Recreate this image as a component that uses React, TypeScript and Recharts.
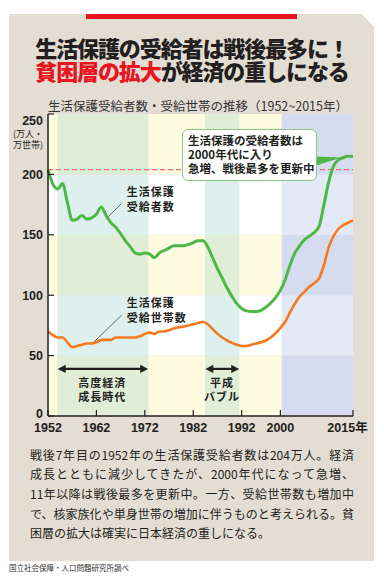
import {
  LineChart,
  Line,
  XAxis,
  YAxis,
  ReferenceArea,
  ReferenceLine,
} from "recharts";

const JP = '"Noto Sans CJK JP", "Noto Sans", sans-serif';
const NUM = '"Liberation Sans", Arial, "Noto Sans CJK JP", sans-serif';
const INK = "#231f20";

// 年
const years = [
  1952, 1953, 1954, 1955, 1956, 1957, 1958, 1959, 1960, 1961,
  1962, 1963, 1964, 1965, 1966, 1967, 1968, 1969, 1970, 1971,
  1972, 1973, 1974, 1975, 1976, 1977, 1978, 1979, 1980, 1981,
  1982, 1983, 1984, 1985, 1986, 1987, 1988, 1989, 1990, 1991,
  1992, 1993, 1994, 1995, 1996, 1997, 1998, 1999, 2000, 2001,
  2002, 2003, 2004, 2005, 2006, 2007, 2008, 2009, 2010, 2011,
  2012, 2013, 2014, 2015,
];

// 生活保護受給者数（万人）
const recipients = [
  204, 192, 188, 192.5, 177, 162, 163, 166, 163, 164,
  167, 173, 166, 160, 156, 151, 145, 140, 135, 134,
  135, 134, 131, 135, 137, 139, 141, 141, 141, 142,
  143.5, 145, 145, 140, 131, 122, 114, 106, 99, 93,
  89, 87, 86.5, 86.5, 87.5, 90, 93.5, 98, 104, 113,
  125, 135, 141, 146, 149, 152, 157, 175, 194, 207,
  212, 214, 215, 215,
];

// 生活保護受給世帯数（万世帯）
const households = [
  70, 67, 65, 65, 61, 57, 58, 59, 60, 60,
  61, 63, 63, 63, 65, 65, 65, 65, 65, 66,
  68, 69, 68, 70, 70, 71, 72.5, 73.5, 74, 75,
  76, 77, 78, 76, 72, 68, 65, 62.5, 60.5, 59,
  58, 58, 59, 60, 61, 62.5, 65, 68.5, 73, 78,
  86, 93, 99, 103, 107, 110, 114, 125, 140, 149,
  155, 158, 160, 162,
];

const xTicks = [1952, 1962, 1972, 1982, 1992, 2000, 2015];
const yTicks = [0, 50, 100, 150, 200, 250];
const postwarStart = 204;

// background columns (year ranges) and rows (value ranges)
const colEdges = [1952, 1954, 1972.7, 1984.5, 1991.5, 2000.3, 2015];
const colKinds = ["y", "g", "y", "g", "y", "b"];
const rowEdges = [0, 50, 100, 150, 200, 250];
const rowLight = [false, true, false, true, false];

const tint: Record<string, string> = { y: "#fdfbe0", g: "#e0eed7", b: "#d6dcef" };
const tintLight: Record<string, string> = { y: "#ffffff", g: "#def0ee", b: "#e3e9f6" };

// annotation anchors (year, value)
const growthArrow = [{ x: 1954, y: 39 }, { x: 1972.7, y: 39 }];
const bubbleArrow = [{ x: 1984.5, y: 39 }, { x: 1991.5, y: 39 }];
const recipLeader = [{ x: 1964.1, y: 163.5 }, { x: 1967.2, y: 176 }];
const houseLeader = [{ x: 1961.3, y: 60.5 }, { x: 1967.2, y: 83.5 }];
const calloutPointer = [{ x: 2007.4, y: 211 }, { x: 2012.6, y: 214 }];

const data = years.map((year, i) => ({
  year,
  recipients: recipients[i],
  households: households[i],
}));

const DoubleArrow = (props: any) => {
  const { x1, y1, x2, y2 } = props;
  const h = 8;
  const w = 4.2;
  return (
    <g>
      <line x1={x1 + h - 1} y1={y1} x2={x2 - h + 1} y2={y2} stroke={INK} strokeWidth={2.2} />
      <polygon points={`${x1},${y1} ${x1 + h},${y1 - w} ${x1 + h},${y1 + w}`} fill={INK} />
      <polygon points={`${x2},${y2} ${x2 - h},${y2 - w} ${x2 - h},${y2 + w}`} fill={INK} />
    </g>
  );
};

const Wedge = (props: any) => {
  const { x1, y1, x2, y2 } = props;
  return <polygon points={`${x1},${y1 - 4.5} ${x1},${y1 + 4.5} ${x2},${y2}`} fill="#4db848" />;
};

const YearTick = (props: any) => {
  const { x, y, payload } = props;
  const last = payload.value === 2015;
  return (
    <text
      x={x}
      y={y}
      dx={last ? -5.5 : 0}
      dy="0.35em"
      textAnchor="middle"
      fontSize={12.5}
      fontWeight={700}
      fill={INK}
      fontFamily={NUM}
    >
      {last ? `${payload.value}年` : payload.value}
    </text>
  );
};

// top label sits a little lower, bottom one a little higher, as in print
const ValueTick = (props: any) => {
  const { x, y, payload } = props;
  const shift = payload.value === 250 ? 6.5 : payload.value === 0 ? -2.5 : 0;
  return (
    <text
      x={x}
      y={y + shift}
      dy="0.35em"
      textAnchor="end"
      fontSize={12.5}
      fontWeight={700}
      fill={INK}
      fontFamily={NUM}
    >
      {payload.value}
    </text>
  );
};

const bodyLines = [
  "戦後7年目の1952年の生活保護受給者数は204万人。経済",
  "成長とともに減少してきたが、2000年代になって急増、",
  "11年以降は戦後最多を更新中。一方、受給世帯数も増加中",
  "で、核家族化や単身世帯の増加に伴うものと考えられる。貧",
  "困層の拡大は確実に日本経済の重しになる。",
];

const abs = (left: number, top: number, extra: React.CSSProperties = {}): React.CSSProperties => ({
  position: "absolute",
  left,
  top,
  fontFamily: JP,
  color: INK,
  whiteSpace: "nowrap",
  ...extra,
});

function App() {
  const cells: any[] = [];
  colKinds.forEach((kind, c) => {
    rowLight.forEach((light, r) => {
      cells.push(
        <ReferenceArea
          key={`c${c}r${r}`}
          x1={colEdges[c]}
          x2={colEdges[c + 1]}
          y1={rowEdges[r]}
          y2={rowEdges[r + 1]}
          fill={light ? tintLight[kind] : tint[kind]}
          fillOpacity={1}
          stroke="none"
          ifOverflow="visible"
        />
      );
    });
  });

  const titleStyle = { width: 384, textAlign: "center" as const, fontSize: 22, lineHeight: "23px", height: 23, fontWeight: 900, letterSpacing: -1.1 };

  return (
    <div style={{ position: "absolute", left: 0, top: 0, width: 384, height: 579, background: "#fff", overflow: "hidden" }}>
      <div
        style={{
          position: "absolute",
          left: 9,
          top: 14,
          width: 365,
          height: 547,
          background: "#e4ddd3",
          clipPath: "polygon(0 0, 353px 0, 365px 13px, 365px 547px, 0 547px)",
        }}
      />
      <div style={{ position: "absolute", left: 86, top: 14, width: 211, height: 5, background: "#e8141e" }} />

      <div style={abs(0, 36, titleStyle)}>生活保護の受給者は戦後最多に！</div>
      <div style={abs(0, 59.3, titleStyle)}>
        <span style={{ color: "#e8141e" }}>貧困層の拡大</span>が経済の重しになる
      </div>

      <div style={abs(48, 97, { fontSize: 12.5, lineHeight: 1.448, color: "#333" })}>
        生活保護受給者数・受給世帯の推移（1952~2015年）
      </div>

      <div style={abs(0, 128, { width: 43, textAlign: "right", fontSize: 9, lineHeight: "11px" })}>
        (万人・
        <br />
        万世帯)
      </div>

      <div style={{ position: "absolute", left: 0, top: 0 }}>
        <LineChart width={384} height={445} data={data} margin={{ top: 114, right: 31, bottom: 9, left: 8 }}>
          {cells}
          <ReferenceLine
            y={postwarStart}
            stroke="#ee6b74"
            strokeWidth={1.3}
            strokeDasharray="5 3"
          />
          <XAxis
            dataKey="year"
            type="number"
            domain={[1952, 2015]}
            ticks={xTicks}
            interval={0}
            height={20}
            tick={<YearTick />}
            tickSize={-6}
            tickMargin={17.5}
            axisLine={{ stroke: INK, strokeWidth: 1.5 }}
            tickLine={{ stroke: INK, strokeWidth: 1.2 }}
          />
          <YAxis
            type="number"
            domain={[0, 250]}
            ticks={yTicks}
            interval={0}
            width={40}
            tickSize={-6}
            tickMargin={11}
            axisLine={{ stroke: INK, strokeWidth: 1.5 }}
            tickLine={{ stroke: INK, strokeWidth: 1.2 }}
            tick={<ValueTick />}
          />
          <ReferenceLine segment={recipLeader} stroke="#444" strokeWidth={0.8} ifOverflow="visible" />
          <ReferenceLine segment={houseLeader} stroke="#444" strokeWidth={0.8} ifOverflow="visible" />
          <ReferenceLine segment={growthArrow} shape={DoubleArrow} ifOverflow="visible" />
          <ReferenceLine segment={bubbleArrow} shape={DoubleArrow} ifOverflow="visible" />
          <Line
            type="monotone"
            dataKey="households"
            stroke="#f47920"
            strokeWidth={2.6}
            dot={false}
            isAnimationActive={false}
          />
          <Line
            type="monotone"
            dataKey="recipients"
            stroke="#4db848"
            strokeWidth={3}
            dot={false}
            isAnimationActive={false}
          />
          <ReferenceLine segment={calloutPointer} shape={Wedge} ifOverflow="visible" />
        </LineChart>
      </div>

      <div style={abs(126.7, 183.6, { fontSize: 11, fontWeight: 700, lineHeight: "15px", letterSpacing: 1 })}>
        生活保護
        <br />
        受給者数
      </div>
      <div style={abs(126.7, 295.2, { fontSize: 11, fontWeight: 700, lineHeight: "15px", letterSpacing: 1 })}>
        生活保護
        <br />
        受給世帯数
      </div>
      <div style={abs(78.3, 375.4, { fontSize: 11, fontWeight: 700, lineHeight: "14px", letterSpacing: 1 })}>
        高度経済
        <br />
        成長時代
      </div>
      <div style={abs(197, 375.4, { width: 50, textAlign: "center", fontSize: 11, fontWeight: 700, lineHeight: "14px", letterSpacing: 1 })}>
        平成
        <br />
        バブル
      </div>

      <div
        style={{
          position: "absolute",
          left: 182,
          top: 128.5,
          width: 134.5,
          height: 52.5,
          boxSizing: "border-box",
          background: "#fff",
          border: "1.5px solid #86c97f",
          borderRadius: 6,
        }}
      />
      <div style={abs(188, 134.2, { fontSize: 11.5, fontWeight: 700, lineHeight: "13.7px" })}>
        生活保護の受給者数は
        <br />
        2000年代に入り
        <br />
        急増、戦後最多を更新中
      </div>

      <div style={abs(30, 444.5, { fontSize: 12, lineHeight: "19.7px", width: 324 })}>
        {bodyLines.map((line, i) => (
          <div key={i} style={{ textAlign: "justify", textAlignLast: i < bodyLines.length - 1 ? "justify" : "left" }}>
            {line}
          </div>
        ))}
      </div>

      <div style={abs(9, 563, { fontSize: 7.5, lineHeight: 1.448, color: "#333" })}>
        国立社会保障・人口問題研究所調べ
      </div>
    </div>
  );
}

export default App;
